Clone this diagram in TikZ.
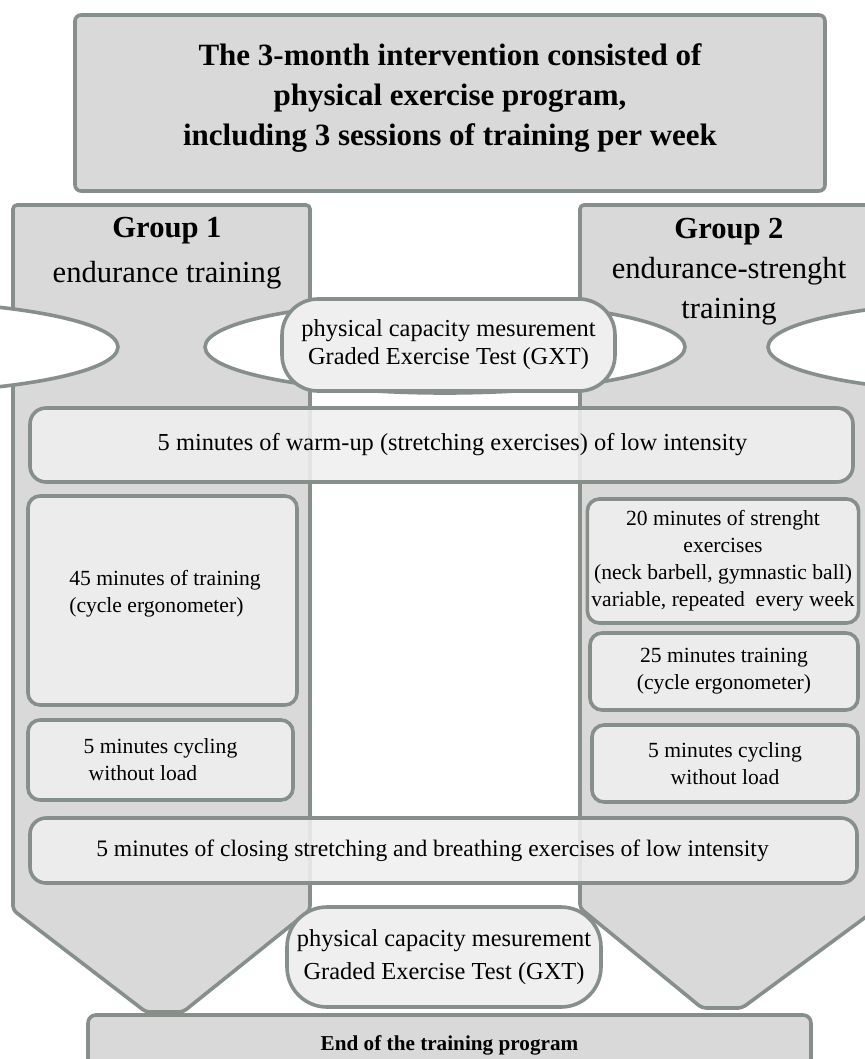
\documentclass[tikz,border=0pt]{standalone}
\usepackage{fontspec}
\setmainfont{Liberation Serif}
\usepackage{tikz}
\usetikzlibrary{positioning}
\definecolor{shapeGray}{RGB}{217,217,217}
\definecolor{lineGray}{RGB}{135,143,139}
\definecolor{boxGray}{RGB}{239,239,239}

\begin{document}
\begin{tikzpicture}[
    x=0.5pt, y=-0.5pt,
    shapebox/.style={
        draw=lineGray,
        line width=1.8pt,
        fill=shapeGray,
        rounded corners=2pt
    },
    stepbox/.style={
        draw=lineGray,
        line width=1.8pt,
        fill=boxGray,
        fill opacity=0.88,
        text opacity=1,
        rounded corners=6pt,
        inner sep=2pt,
        align=center,
        font=\fontsize{10.8}{13.5}\selectfont
    },
    barbox/.style={
        stepbox,
        font=\fontsize{12.2}{14}\selectfont
    },
    gxtbox/.style={
        draw=lineGray,
        line width=1.8pt,
        fill=boxGray,
        rounded corners=18pt,
        align=center,
        minimum width=160pt,
        font=\fontsize{12.2}{14}\selectfont
    },
    lens/.style={
        draw=lineGray,
        line width=1.8pt,
        fill=white
    }
]
    \useasboundingbox (0,0) rectangle (865,1059);
    \clip (0,0) rectangle (865,1059);

    % ---------------------------------------------------------
    % BACKGROUND: THE TWO GROUP COLUMNS
    % ---------------------------------------------------------
    \draw[shapebox] (13,205) -- (310,205) -- (310,910) -- (183,1012)
        -- (146,1012) -- (13,910) -- cycle;
    \draw[shapebox] (580,205) -- (878,205) -- (878,908) -- (742,1008)
        -- (702,1008) -- (580,908) -- cycle;

    % lens cut-outs between the columns
    \draw[lens] (-122,347) ellipse [x radius=240, y radius=46];
    \draw[lens] (445,347) ellipse [x radius=240, y radius=46];
    \draw[lens] (1008,347) ellipse [x radius=240, y radius=46];

    % ---------------------------------------------------------
    % TOP: THE INTERVENTION
    % ---------------------------------------------------------
    \node[shapebox, rounded corners=3pt, minimum width=375pt, minimum height=88pt,
        align=center, font=\fontsize{15.5}{20}\selectfont\bfseries] (intervention)
        at (450,103) {The 3-month intervention consisted of\\physical exercise program,\\including 3 sessions of training per week\\[-12pt]};

    % ---------------------------------------------------------
    % GROUP LABELS
    % ---------------------------------------------------------
    \node[align=center, font=\fontsize{15.3}{22.5}\selectfont] (group1) at (167,253)
        {\textbf{Group 1}\\endurance training};
    \node[align=center, font=\fontsize{15.3}{20}\selectfont] (group2) at (729,272)
        {\textbf{Group 2}\\endurance-strenght\\training};

    % ---------------------------------------------------------
    % FIRST MEASUREMENT
    % ---------------------------------------------------------
    \node[gxtbox, minimum width=166.5pt, minimum height=46pt] (gxtStart) at (448.5,345)
        {physical capacity mesurement\\Graded Exercise Test (GXT)};

    % ---------------------------------------------------------
    % SESSION STEPS
    % ---------------------------------------------------------
    \node[barbox, rounded corners=8pt, minimum width=411.5pt, minimum height=37pt] (warmup) at (441.5,445)
        {\hspace*{11pt}5 minutes of warm-up (stretching exercises) of low intensity};

    % Group 1
    \node[stepbox, align=left, minimum width=134.5pt, minimum height=104.5pt] (train45) at (162.5,600.5)
        {\hspace*{2.5pt}45 minutes of training\\\hspace*{2.5pt}(cycle ergonometer)\\[-4.5pt]};
    \node[stepbox, align=left, minimum width=132.5pt, minimum height=40pt] (cycle1) at (160.5,760)
        {5 minutes cycling\\\hspace{2.5pt}without load};

    % Group 2
    \node[stepbox, minimum width=135pt, minimum height=62pt] (strength) at (723,561)
        {20 minutes of strenght\\exercises\\(neck barbell, gymnastic ball)\\variable, repeated\ \ every week};
    \node[stepbox, minimum width=134pt, minimum height=38.5pt] (train25) at (724,671.5)
        {25 minutes training\\(cycle ergonometer)};
    \node[stepbox, minimum width=133pt, minimum height=38.5pt] (cycle2) at (725,763.5)
        {5 minutes cycling\\without load};

    \node[barbox, rounded corners=8pt, minimum width=413.5pt, minimum height=32.5pt,
        font=\fontsize{11.8}{14}\selectfont] (closing) at (443.5,850.5)
        {\hspace*{-11pt}5 minutes of closing stretching and breathing exercises of low intensity};

    % ---------------------------------------------------------
    % BOTTOM: SECOND MEASUREMENT AND END
    % ---------------------------------------------------------
    \node[gxtbox, minimum width=157pt, minimum height=50pt, rounded corners=20pt,
        font=\fontsize{12.2}{16.5}\selectfont] (gxtEnd) at (444,957)
        {physical capacity mesurement\\Graded Exercise Test (GXT)};

    \node[shapebox, rounded corners=4pt, minimum width=361.5pt, minimum height=30pt,
        font=\fontsize{10.6}{12}\selectfont\bfseries] (finish) at (449.5,1045)
        {End of the training program\\[4pt]};

\end{tikzpicture}
\end{document}
